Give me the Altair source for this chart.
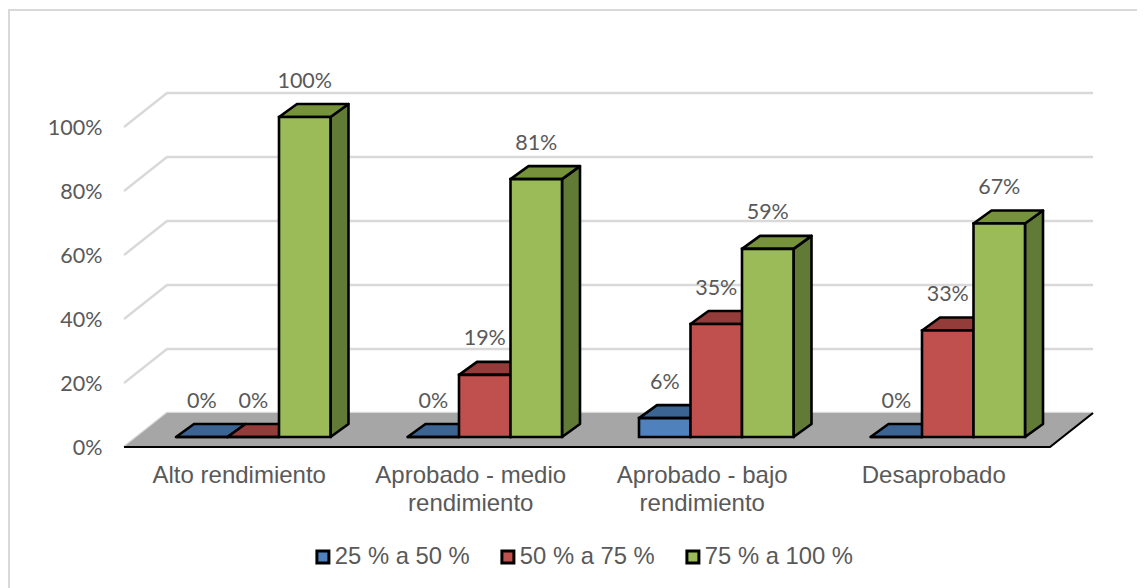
import altair as alt
import pandas as pd

categories = ["Alto rendimiento", "Aprobado - medio rendimiento", "Aprobado - bajo rendimiento", "Desaprobado"]
series_names = ["25 % a 50 %", "50 % a 75 %", "75 % a 100 %"]
serie_25_50 = [0, 0, 5.9, 0]
serie_50_75 = [0, 19.4, 35.3, 33.3]
serie_75_100 = [100, 80.6, 58.8, 66.7]
tick_values = [0, 20, 40, 60, 80, 100]

front_colors = ["#4f81bd", "#c0504d", "#9bbb59"]
top_colors = ["#3b6493", "#943c3a", "#76933c"]
side_colors = ["#2f4f75", "#773030", "#617a36"]
GRID = "#d9d9d9"
FLOOR = "#a6a6a6"
TEXT = "#595959"
EDGE = 2.6

# Geometry in pixels of the plot area, converted to scale units
PLOT_W, PLOT_H = 969, 439
PX_X = 231.5      # pixels per category
PX_Y = 3.2        # pixels per percentage point
x_scale = alt.Scale(domain=[0, PLOT_W / PX_X], range=[0, PLOT_W], nice=False, zero=False)
y_scale = alt.Scale(domain=[0, PLOT_H / PX_Y], range=[PLOT_H, 0], nice=False, zero=False)

BAR_W = 51.5 / PX_X
GROUP_LEFT = 52 / PX_X
DEPTH_X, DEPTH_Y = 18 / PX_X, 13 / PX_Y
LIFT = 10 / PX_Y
FLOOR_X, FLOOR_Y = 43 / PX_X, 34 / PX_Y
N = len(categories)

X = alt.X("x:Q", scale=x_scale, title=None,
          axis=alt.Axis(values=[i + 0.5 for i in range(N)], domain=False, ticks=False, grid=False,
                        labelFontSize=24, labelFont="Liberation Sans", labelColor=TEXT, labelPadding=16,
                        labelLineHeight=28, labelBaseline="top", labelFlush=False, labelOverlap=False,
                        labelLimit=400, labelOffset=-1,
                        labelExpr="[['Alto rendimiento'],['Aprobado - medio','rendimiento'],"
                                  "['Aprobado - bajo','rendimiento'],['Desaprobado']][round(datum.value - 0.5)]"))
Y = alt.Y("y:Q", scale=y_scale, title=None, stack=None,
          axis=alt.Axis(values=tick_values, domain=False, ticks=False, grid=False,
                        labelFontSize=21.5, labelFont="Lato", labelColor=TEXT, labelPadding=22,
                        labelOffset=1.5, labelExpr="datum.value + '%'"))
x_plain = alt.X("x:Q", scale=x_scale)
y_plain = alt.Y("y:Q", scale=y_scale, stack=None)

# Axes carried by an invisible first layer on the same scales
axes = alt.Chart(pd.DataFrame({"x": [i + 0.5 for i in range(N)], "y": [0] * N})).mark_point(opacity=0).encode(x=X, y=Y)

# Walls: gridlines with a diagonal on the left side
grid_rows = []
for v in tick_values:
    grid_rows += [dict(v=v, o=0, x=0, y=v),
                  dict(v=v, o=1, x=FLOOR_X, y=v + FLOOR_Y),
                  dict(v=v, o=2, x=N + FLOOR_X, y=v + FLOOR_Y)]
grid = alt.Chart(pd.DataFrame(grid_rows)).mark_line(color=GRID, strokeWidth=2.4, clip=False).encode(
    x=x_plain, y=y_plain, order="o:Q", detail="v:N")

# Floor
floor = alt.Chart(pd.DataFrame([dict(y=0, x=0, x2=N), dict(y=FLOOR_Y, x=FLOOR_X, x2=N + FLOOR_X)])).mark_area(
    orient="horizontal", color=FLOOR, clip=False).encode(y=y_plain, x=x_plain, x2="x2:Q")
floor_edge = alt.Chart(pd.DataFrame([dict(o=0, x=0, y=0), dict(o=1, x=N, y=0),
                                     dict(o=2, x=N + FLOOR_X, y=FLOOR_Y)])).mark_line(
    color="black", strokeWidth=2.2, clip=False).encode(x=x_plain, y=y_plain, order="o:Q")

layers = [axes, grid, floor, floor_edge]
color_scale = alt.Scale(domain=series_names, range=front_colors)
legend = alt.Legend(title=None, orient="none", direction="horizontal", columns=3, legendX=187, legendY=537,
                    symbolType="square", symbolSize=144, symbolStrokeColor="black", symbolStrokeWidth=3,
                    symbolOpacity=1, labelFontSize=23.8, labelFont="Liberation Sans", labelColor=TEXT,
                    columnPadding=25, labelOffset=0, labelLimit=300)

for s, (name, values) in enumerate(zip(series_names, [serie_25_50, serie_50_75, serie_75_100])):
    side_rows, top_rows, front_rows = [], [], []
    for c, val in enumerate(values):
        x0 = c + GROUP_LEFT + s * BAR_W
        x1 = x0 + BAR_W
        base, top = LIFT, LIFT + val
        side_rows += [dict(c=c, x=x1, y=base, y2=top),
                      dict(c=c, x=x1 + DEPTH_X, y=base + DEPTH_Y, y2=top + DEPTH_Y)]
        top_rows += [dict(c=c, y=top, x=x0, x2=x1),
                     dict(c=c, y=top + DEPTH_Y, x=x0 + DEPTH_X, x2=x1 + DEPTH_X)]
        front_rows.append(dict(c=c, x=x0, x2=x1, y=base, y2=top, serie=name))
    layers.append(alt.Chart(pd.DataFrame(side_rows)).mark_area(
        color=side_colors[s], stroke="black", strokeWidth=EDGE, strokeJoin="round", clip=False).encode(
        x=x_plain, y=y_plain, y2="y2:Q", detail="c:N"))
    layers.append(alt.Chart(pd.DataFrame(top_rows)).mark_area(
        orient="horizontal", color=top_colors[s], stroke="black", strokeWidth=EDGE, strokeJoin="round", clip=False).encode(
        y=y_plain, x=x_plain, x2="x2:Q", detail="c:N"))
    layers.append(alt.Chart(pd.DataFrame(front_rows)).mark_rect(
        stroke="black", strokeWidth=EDGE, clip=False).encode(
        x=x_plain, x2="x2:Q", y=y_plain, y2="y2:Q",
        color=alt.Color("serie:N", scale=color_scale, legend=legend)))

# Value labels
label_rows = []
for s, values in enumerate([serie_25_50, serie_50_75, serie_75_100]):
    for c, val in enumerate(values):
        label_rows.append(dict(x=c + GROUP_LEFT + (s + 0.5) * BAR_W, y=LIFT + val, t=f"{round(val)}%"))
labels = alt.Chart(pd.DataFrame(label_rows)).mark_text(
    font="Lato", fontSize=21.5, color=TEXT, dy=-35.5, baseline="middle", align="center", clip=False).encode(
    x=x_plain, y=y_plain, text="t:N")
layers.append(labels)

# Outer frame of the chart
frame_color = "#d9d9d9"
frame = [
    alt.Chart(pd.DataFrame({"a": [0]})).mark_rule(color=frame_color, strokeWidth=2, clip=False).encode(
        x=alt.value(-116), x2=alt.value(1013), y=alt.value(2)),
    alt.Chart(pd.DataFrame({"a": [0]})).mark_rule(color=frame_color, strokeWidth=2, clip=False).encode(
        x=alt.value(-115), y=alt.value(2), y2=alt.value(580)),
]

chart = alt.layer(*layers, *frame).resolve_scale(color="shared").properties(
    width=PLOT_W, height=PLOT_H, padding={"left": 116, "top": 0, "right": 44, "bottom": 141},
    autosize=alt.AutoSizeParams(type="none"), background="white",
).configure_view(stroke=None)

chart.save("out.html", embed_options={"renderer": "svg", "actions": False})
